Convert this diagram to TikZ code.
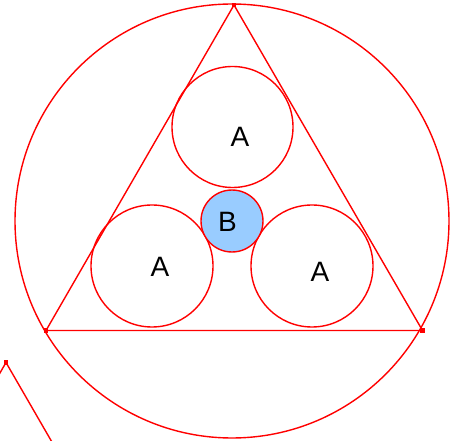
\documentclass[tikz,border=0pt]{standalone}
\usepackage{fontspec}
\setmainfont{Liberation Sans}
\definecolor{bfill}{RGB}{153,204,255}
\begin{document}
\begin{tikzpicture}[x=1pt,y=-1pt,
  redline/.style={draw=red,line width=1.4pt},
  ball/.style={circle,redline,inner sep=0pt,minimum size=#1},
  vtx/.style={fill=red,inner sep=0pt,minimum size=4.5pt,rectangle},
  lbl/.style={font=\fontsize{28}{30}\selectfont,inner sep=0pt}]
\useasboundingbox (0,0) rectangle (456,441);
\clip (0,0) rectangle (456,441);
\node[ball=434pt] (big) at (232,221) {};
\coordinate (T) at (234,5);
\coordinate (L) at (46,330.5);
\coordinate (R) at (422.5,330.5);
\draw[redline] (T) -- (L) -- (R) -- cycle;
\node[ball=121pt] (a1) at (232.5,127) {};
\node[ball=122pt] (a2) at (152,266) {};
\node[ball=122pt] (a3) at (312,266) {};
\node[ball=62pt,fill=bfill] (b) at (232,221) {};
\node[lbl] (la1) at (240,137) {A};
\node[lbl] (la2) at (160,266.5) {A};
\node[lbl] (la3) at (320,272) {A};
\node[lbl] (lb) at (227.5,221.7) {B};
\coordinate (P) at (6,362.5);
\coordinate (P1) at (-12,393.7);
\coordinate (P2) at (54,445.6);
\draw[redline] (P1) -- (P) -- (P2);
\node[vtx] (vT) at (T) {};
\node[vtx] (vL) at (L) {};
\node[vtx] (vR) at (R) {};
\node[vtx] (vP) at (P) {};
\end{tikzpicture}
\end{document}
